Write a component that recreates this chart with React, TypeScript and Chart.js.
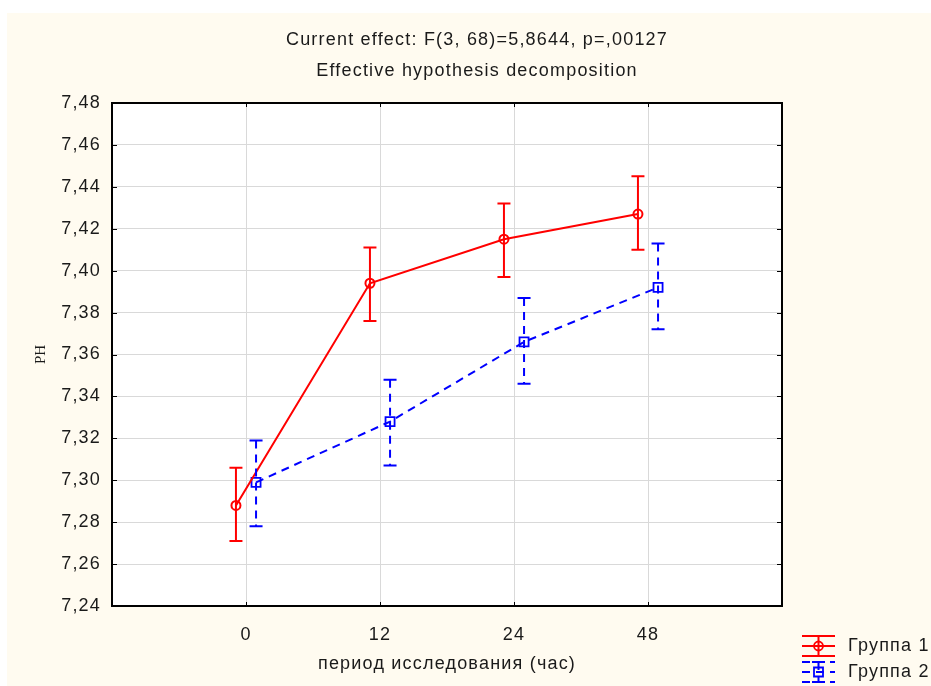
import React, { useEffect, useRef } from 'react';
import { Chart, registerables } from 'chart.js';

Chart.register(...registerables);

const titleLines = ['Current effect: F(3, 68)=5,8644, p=,00127', 'Effective hypothesis decomposition'];
const xAxisTitle = 'период исследования (час)';
const yAxisTitle = 'PH';
const categories = ['0', '12', '24', '48'];
const yTickValues = [7.24, 7.26, 7.28, 7.3, 7.32, 7.34, 7.36, 7.38, 7.4, 7.42, 7.44, 7.46, 7.48];
const yTickLabels = ['7,24', '7,26', '7,28', '7,30', '7,32', '7,34', '7,36', '7,38', '7,40', '7,42', '7,44', '7,46', '7,48'];

const group1Label = 'Группа 1';
const group1Mean = [7.288, 7.394, 7.415, 7.427];
const group1Low = [7.271, 7.376, 7.397, 7.41];
const group1High = [7.306, 7.411, 7.432, 7.445];

const group2Label = 'Группа 2';
const group2Mean = [7.299, 7.328, 7.366, 7.392];
const group2Low = [7.278, 7.307, 7.346, 7.372];
const group2High = [7.319, 7.348, 7.387, 7.413];

const RED = '#ff0000';
const BLUE = '#0000ff';
const SANS = "'Liberation Sans', Arial, sans-serif";
const FONT_SIZE = 18;
const SPACING = '1.2px';
const DODGE = 0.075;
const CAP = 6.5;

const errorBarPlugin = {
  id: 'errorBars',
  beforeDraw(chart: any) {
    const { ctx, chartArea } = chart;
    ctx.save();
    ctx.fillStyle = '#ffffff';
    ctx.fillRect(chartArea.left, chartArea.top, chartArea.right - chartArea.left, chartArea.bottom - chartArea.top);
    ctx.restore();
    (ctx as any).letterSpacing = SPACING;
  },
  beforeDatasetsDraw(chart: any) {
    const { ctx, chartArea, scales } = chart;
    const { left, right, top, bottom } = chartArea;
    ctx.save();
    ctx.strokeStyle = '#000';
    ctx.lineWidth = 1;
    ctx.beginPath();
    scales.y.ticks.forEach((t: any) => {
      const y = Math.round(scales.y.getPixelForValue(t.value)) + 0.5;
      ctx.moveTo(left, y); ctx.lineTo(left + 5, y);
      ctx.moveTo(right, y); ctx.lineTo(right - 5, y);
    });
    scales.x.ticks.forEach((t: any) => {
      const x = Math.round(scales.x.getPixelForValue(t.value)) + 0.5;
      ctx.moveTo(x, top); ctx.lineTo(x, top + 4);
      ctx.moveTo(x, bottom); ctx.lineTo(x, bottom - 4);
    });
    ctx.stroke();
    ctx.lineWidth = 2;
    ctx.strokeRect(left, top, right - left, bottom - top);
    ctx.restore();
  },
  afterDatasetsDraw(chart: any) {
    const { ctx, scales } = chart;
    chart.data.datasets.forEach((ds: any) => {
      ctx.save();
      ctx.strokeStyle = ds.borderColor;
      ctx.lineWidth = 2;
      ds.data.forEach((p: any, i: number) => {
        const x = scales.x.getPixelForValue(p.x);
        const yl = scales.y.getPixelForValue(ds.errLow[i]);
        const yh = scales.y.getPixelForValue(ds.errHigh[i]);
        ctx.setLineDash(ds.borderDash || []);
        ctx.beginPath();
        ctx.moveTo(x, yh); ctx.lineTo(x, yl);
        ctx.stroke();
        ctx.setLineDash([]);
        ctx.beginPath();
        ctx.moveTo(x - CAP, yh); ctx.lineTo(x + CAP, yh);
        ctx.moveTo(x - CAP, yl); ctx.lineTo(x + CAP, yl);
        ctx.stroke();
      });
      ctx.restore();
    });
  },
  afterDraw(chart: any) {
    const { ctx, chartArea } = chart;
    ctx.save();
    (ctx as any).letterSpacing = SPACING;
    ctx.fillStyle = '#1a1a1a';
    ctx.font = `${FONT_SIZE}px ${SANS}`;
    ctx.textAlign = 'center';
    ctx.textBaseline = 'middle';
    ctx.fillText(titleLines[0], 470, 27);
    ctx.fillText(titleLines[1], 470, 58);
    ctx.fillText(xAxisTitle, (chartArea.left + chartArea.right) / 2, 651);
    // y title
    ctx.save();
    (ctx as any).letterSpacing = '0px';
    ctx.font = `15px 'Liberation Serif', 'Times New Roman', serif`;
    ctx.translate(34, (chartArea.top + chartArea.bottom) / 2);
    ctx.rotate(-Math.PI / 2);
    ctx.fillText(yAxisTitle, 0, 0);
    ctx.restore();

    // legend
    const x0 = 795, x1 = 828, xm = (x0 + x1) / 2;
    const rows = [633, 659];
    chart.data.datasets.forEach((ds: any, i: number) => {
      const yc = rows[i];
      ctx.save();
      ctx.strokeStyle = ds.borderColor;
      ctx.lineWidth = 2;
      ctx.setLineDash(ds.borderDash || []);
      ctx.beginPath();
      [yc - 10, yc, yc + 10].forEach((yy) => { ctx.moveTo(x0, yy); ctx.lineTo(x1, yy); });
      ctx.moveTo(xm, yc - 10); ctx.lineTo(xm, yc + 10);
      ctx.stroke();
      ctx.setLineDash([]);
      ctx.beginPath();
      ctx.moveTo(xm - CAP, yc - 10); ctx.lineTo(xm + CAP, yc - 10);
      ctx.moveTo(xm - CAP, yc + 10); ctx.lineTo(xm + CAP, yc + 10);
      ctx.stroke();
      ctx.lineWidth = 1.8;
      ctx.beginPath();
      if (ds.pointStyle === 'circle') {
        ctx.arc(xm, yc, 4.5, 0, Math.PI * 2);
      } else {
        ctx.rect(xm - 4.5, yc - 4.5, 9, 9);
      }
      ctx.stroke();
      ctx.fillStyle = '#1a1a1a';
      ctx.font = `${FONT_SIZE}px ${SANS}`;
      (ctx as any).letterSpacing = SPACING;
      ctx.textAlign = 'left';
      ctx.textBaseline = 'middle';
      ctx.fillText(ds.label, 841, yc);
      ctx.restore();
    });
    ctx.restore();
  },
};

export default function App() {
  const ref = useRef<HTMLCanvasElement | null>(null);
  useEffect(() => {
    if (!ref.current) return;
    const tickFont = { family: SANS, size: FONT_SIZE };
    const chart = new Chart(ref.current, {
      type: 'line',
      data: {
        datasets: [
          {
            label: group1Label,
            data: group1Mean.map((y, i) => ({ x: i + 1 - DODGE, y })),
            errLow: group1Low,
            errHigh: group1High,
            borderColor: RED,
            backgroundColor: 'rgba(0,0,0,0)',
            borderWidth: 2,
            pointStyle: 'circle',
            pointRadius: 4.5,
            pointBorderWidth: 2,
            pointBorderColor: RED,
            pointBackgroundColor: 'rgba(0,0,0,0)',
            tension: 0,
          } as any,
          {
            label: group2Label,
            data: group2Mean.map((y, i) => ({ x: i + 1 + DODGE, y })),
            errLow: group2Low,
            errHigh: group2High,
            borderColor: BLUE,
            backgroundColor: 'rgba(0,0,0,0)',
            borderWidth: 2,
            borderDash: [8, 6],
            pointStyle: 'rect',
            pointRadius: 6.4,
            pointBorderWidth: 1.8,
            pointBorderColor: BLUE,
            pointBackgroundColor: 'rgba(0,0,0,0)',
            tension: 0,
          } as any,
        ],
      },
      options: {
        responsive: false,
        animation: false,
        layout: { padding: { left: 0, right: 165, top: 90, bottom: 0 } },
        plugins: {
          legend: { display: false },
          title: { display: false },
          tooltip: { enabled: false },
        },
        scales: {
          x: {
            type: 'linear',
            min: 0,
            max: 5,
            afterBuildTicks: (s: any) => {
              s.ticks = categories.map((_, i) => ({ value: i + 1 }));
            },
            afterFit: (s: any) => {
              s.height = 87;
            },
            grid: { color: '#d9d9d9', lineWidth: 1, drawTicks: false },
            border: { display: false },
            ticks: {
              padding: 18,
              font: tickFont,
              color: '#1a1a1a',
              maxRotation: 0,
              autoSkip: false,
              callback: (_v: any, i: number) => categories[i],
            },
          },
          y: {
            type: 'linear',
            min: 7.24,
            max: 7.48,
            afterBuildTicks: (s: any) => {
              s.ticks = yTickValues.map((v) => ({ value: v }));
            },
            afterFit: (s: any) => {
              s.width = 105;
            },
            grid: { color: '#d9d9d9', lineWidth: 1, drawTicks: false },
            border: { display: false },
            ticks: {
              padding: 11,
              font: tickFont,
              color: '#1a1a1a',
              autoSkip: false,
              callback: (_v: any, i: number) => yTickLabels[i],
            },
          },
        },
      } as any,
      plugins: [errorBarPlugin],
    });
    return () => chart.destroy();
  }, []);

  return (
    <div style={{ position: 'absolute', left: 0, top: 0, width: 931, height: 686, overflow: 'hidden', background: '#ffffff' }}>
      <div style={{ position: 'absolute', left: 7, top: 13, width: 940, height: 680, background: '#fffbf0' }}>
        <canvas ref={ref} width={940} height={680} style={{ display: 'block' }} />
      </div>
    </div>
  );
}
